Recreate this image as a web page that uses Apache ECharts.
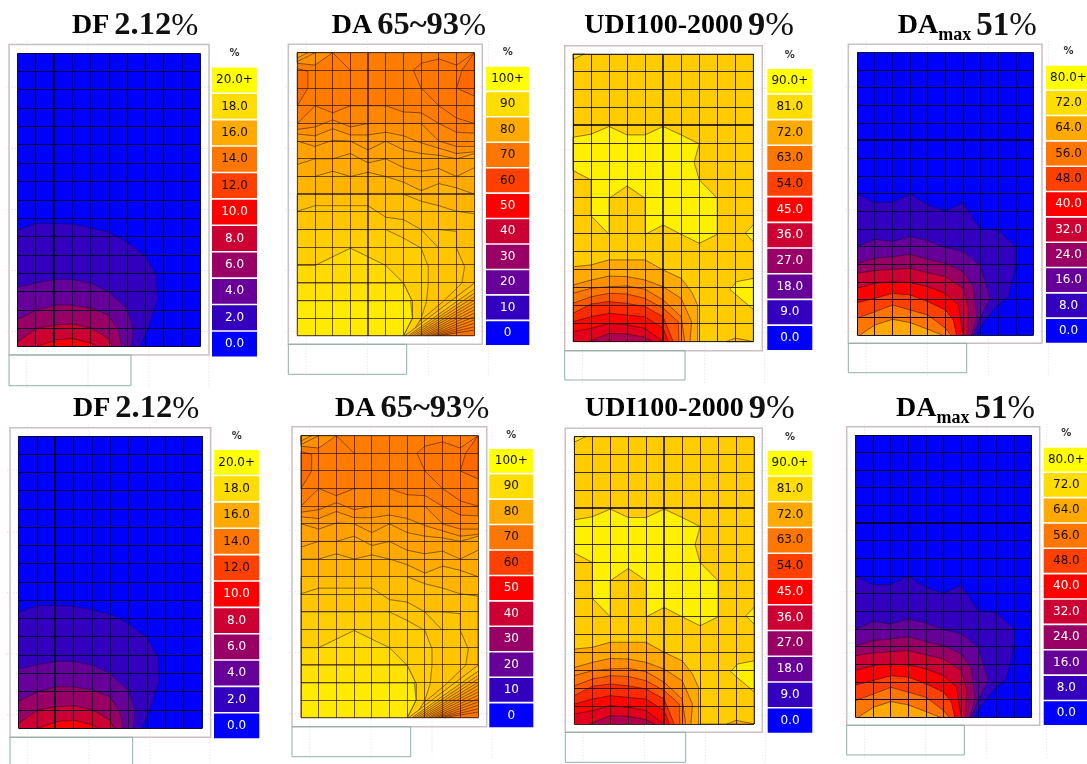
<!DOCTYPE html>
<html><head><meta charset="utf-8">
<style>html,body{margin:0;padding:0;background:#fff}#c{width:1087px;height:764px}</style>
<script src="https://cdn.jsdelivr.net/npm/echarts@6/dist/echarts.min.js"></script>
</head><body><div id="c"></div>
<script>
// ---------- data: contour levels in room-grid cells (x 0..10, y 0..16) ----------
const dfTicks  = ['0.0','2.0','4.0','6.0','8.0','10.0','12.0','14.0','16.0','18.0','20.0+'];
const daTicks  = ['0','10','20','30','40','50','60','70','80','90','100+'];
const udiTicks = ['0.0','9.0','18.0','27.0','36.0','45.0','54.0','63.0','72.0','81.0','90.0+'];
const maxTicks = ['0.0','8.0','16.0','24.0','32.0','40.0','48.0','56.0','64.0','72.0','80.0+'];

const gridColumns = [0,1,2,3,4,5,6,7,8,9,10];
const gridRows    = [0,1,2,3,4,5,6,7,8,9,10,11,12,13,14,15,16];

const dfBands = [
 [2,[[0,6.36],[1.04,6.73],[2,6.72],[3,6.69],[4.96,6.27],[5.97,5.73],[6.97,5],[7.6,3.9],[7.65,2.55],[7.15,1],[6.7,0]]],
 [4,[[0,3.24],[1.04,3.49],[2.04,3.67],[3,3.67],[4.05,3.45],[4.96,3],[5.97,2.09],[6.33,1],[6.24,0]]],
 [6,[[0,1.49],[1.04,2],[2.04,2.27],[3,2.27],[4.05,2.09],[4.96,1.73],[5.5,.91],[5.7,0]]],
 [8,[[0,.27],[1.04,1],[2.04,1.18],[3,1.24],[4.05,1],[4.96,.45],[5.2,0]]],
 [10,[[1.04,0],[2.04,.36],[3,.45],[4.05,.18],[4.32,0]]]
];
const dfPatches = [];

const daBands = [
 [73,[[0,12],[1,13],[2,12.6],[3,13],[5,13],[6,12.65],[7,12.6],[8,12],[9,11.5],[10,11.45]]],
 [75,[[0,11.66],[1,11.8],[2,12.2],[3,11.8],[4,12],[5,12],[6,12],[7,12],[8,11],[9,10.7],[10,10.7]]],
 [77,[[0,11.4],[1,11.3],[2,11.7],[3,11.35],[4,11.35],[5,11.5],[6,11.3],[7,10.9],[8,10.6],[9,10.3],[10,10.4]]],
 [78.5,[[0,11],[1,10.7],[2,11.05],[3,11],[4,10.5],[5,11],[6,10.5],[7,10.3],[8,10.2],[9,10],[10,10.3]]],
 [80,[[0,9.68],[1,10],[2,10],[3,10.3],[4,9.77],[5,10],[6,9.5],[7,9.3],[8,9.45],[9,9],[10,9.5]]],
 [82,[[0,9],[1,9],[2,9.3],[3,9],[4,9.24],[5,9],[6,8.68],[7,8.2],[8,8.6],[9,8.36],[10,8]]],
 [84,[[6,8],[7,7.6],[8,7.35],[9,7.03],[10,6.9],[10,0],[0,0],[0,8]]],
 [85.5,[[0,7.03],[1,7.35],[4,7.35],[5,6.7],[6,6.56],[7,6],[8,6],[9,5.9],[9,4.95],[9.45,3.9],[9.3,2.97],[8.2,1.9],[7,.9],[6,0]]],
 [87,[[0,6],[5,6],[6,5.52],[7,4.95],[7.4,3.9],[7.4,2.97],[7.3,1.93],[7,.98],[6.4,0]]],
 [89.5,[[0,3.97],[1,3.97],[3,4.95],[5,3.97],[6,2.97],[6.5,1.93],[6.5,1],[6,0]]],
 [91.5,[[0,2.97],[6,2.97],[6.5,1.93],[6.5,1],[6,0]]],
 [94,[[0,1.97],[6.4,1.97],[6.5,1],[6,0]]]
];
const daPatches = [
 [71,[[0,16],[10,16],[10,0],[0,0]]],
 [75,[[0,16],[0,15.4],[1,15.3],[2,16]]],
 [77,[[0,16],[0,15.5],[1,16]]],
 [79,[[0,16],[0,15.7],[.6,16]]],
 [68,[[0,15.1],[.6,14.95],[.6,14],[0,13]]],
 [70,[[6.55,15],[7,15.4],[8,15.65],[9,15.3],[10,16],[10,12],[9,12.3],[8,13],[7,14]]],
 [67.5,[[9.3,15],[10,16],[10,13.55],[9,14]]]
];
const daFanBottomX = [6.08,6.27,6.4,6.55,6.7,6.85,7,7.16,7.3,7.46,7.6,7.76,7.9,8.06];
const daFanRightY  = [2.97,2.63,2.4,2.2,2.0,1.83,1.64,1.46,1.27,1.08,.89,.7,.5,.32];
const daFanValue   = [85,83,81,79.5,78,77,76,75,74,73,72,71,70,69];

const udiBands = [
 [72,[[0,4.17],[1,4.27],[2,4.55],[4,4.55],[5,3.99],[6,3.52],[6.58,2.78],[6.91,2.04],[6.91,0]]],
 [67,[[0,3.15],[1,3.43],[2,3.65],[3,3.62],[4,3.43],[5,3.06],[6,2.41],[6.58,1.11],[6.49,0]]],
 [63,[[0,2.69],[1,2.97],[2,3.06],[3,3.1],[4,2.91],[5,2.32],[6,1.39],[6.2,0]]],
 [58,[[0,2.13],[1,2.5],[2,2.69],[3,2.65],[4,2.41],[5,1.86],[5.84,1.11],[5.87,0]]],
 [51,[[0,1.58],[1,2.1],[2,2.23],[3,2.13],[4,1.95],[5,1.39],[5.56,0]]],
 [46,[[0,1.11],[1,1.39],[2,1.58],[3,1.48],[4,1.39],[5,.74],[5.29,0]]],
 [40,[[0,.56],[1,.74],[2,1.02],[3,.93],[4,.74],[5,0]]],
 [31,[[.85,0],[2,.46],[3,.43],[4,.24],[4.45,0]]]
];
const udiPatches = [
 [78,[[0,16],[10,16],[10,0],[0,0]]],
 [86,[[0,11.37],[1,11.54],[2,11.97],[3,11.5],[4,11.5],[5,11.97],[6,11.5],[7,11],[6.72,9.98],[7,9],[8,7.98],[8,5.97],[7,5.47],[6,5.97],[5,6.49],[4,5.97],[4,7.98],[3,8.66],[2,7.98],[2,5.97],[1,7],[1,9],[0,9.52]]],
 [85,[[0,15.7],[.63,16],[0,16]]],
 [86,[[10,6.5],[9.55,6.03],[10,5.57]]],
 [86,[[10,3.52],[9.08,3.34],[8.7,2.91],[9.17,2.5],[10,1.8]]],
 [73,[[8.5,0],[9,.2],[9.8,.05],[10,0]]]
];

const maxBands = [
 [8,[[0,7.98],[1,7.52],[2,7.52],[3,8],[4,7.37],[5,7.03],[6,7.5],[7,6],[8,5.95],[9,5],[9,3.97],[8.56,2.17],[7.8,1.51],[7,.47],[6.77,0]]],
 [16,[[0,5],[1,5.43],[2,5.29],[3,5.58],[4,5.35],[5,4.97],[6,4.73],[6.96,3.97],[7.53,2.08],[7,1.04],[6.58,0]]],
 [24,[[0,4.06],[1,4.35],[2,4.44],[3,4.57],[4,4.29],[5,4.06],[6,3.59],[6.58,2.74],[6.77,1.04],[6.48,0]]],
 [32,[[0,3.5],[1,3.65],[2,3.72],[3,3.78],[4,3.53],[5,3.31],[6,2.65],[6.3,1.61],[6.26,0]]],
 [40,[[0,2.65],[1,2.93],[2,3.02],[3,2.97],[4,2.74],[5,2.36],[5.73,1.7],[6,0]]],
 [48,[[0,1.83],[1,2.08],[2,2.36],[3,2.27],[4,1.89],[5,1.42],[5.44,.85],[5.63,0]]],
 [56,[[0,.95],[1,1.32],[2,1.7],[3,1.42],[4,1.13],[5,.38],[5.31,0]]],
 [64,[[.15,0],[1,.57],[2,.89],[3,.7],[4,.32],[4.82,0]]]
];
const maxPatches = [];

// open contour fragments that do not bound a colour change worth filling
const daLines = [
 [[2,16],[3,15]], [[7,6],[8,4.95]]
];

// ---------- shared colour ramp of the legends, low to high ----------
const ramp = ['#0000ff','#3300bf','#660099','#990066','#cc0033','#ff0000','#ff4000','#ff7700','#ffaa00','#ffdd00','#ffff00'];
function hex(c){return [1,3,5].map(i=>parseInt(c.substr(i,2),16));}
function rampColor(f){
  const p=Math.max(0,Math.min(10,f*10)), i=Math.min(9,Math.floor(p)), t=p-i, a=hex(ramp[i]), b=hex(ramp[i+1]);
  return 'rgb('+a.map((v,k)=>Math.round(v+(b[k]-v)*t)).join(',')+')';
}

// ---------- metric definitions ----------
const metrics = {
  df:{max:20,ticks:dfTicks,base:0,bands:dfBands,patches:dfPatches,lines:[],fan:null,grid:'rgba(0,0,40,0.92)',
      title:'{b|DF} {n|2.12}{p|%}',n:32.5},
  da:{max:100,ticks:daTicks,base:null,bands:daBands,patches:daPatches,lines:daLines,fan:true,grid:'rgba(45,25,0,0.72)',
      title:'{b|DA} {n|65~93}{p|%}',n:32.5},
  udi:{max:90,ticks:udiTicks,base:null,bands:udiBands,patches:udiPatches,lines:[],fan:null,grid:'rgba(20,10,0,0.82)',
      title:'{b|UDI100-2000} {n|9}{p|%}',n:34.5},
  max:{max:80,ticks:maxTicks,base:0,bands:maxBands,patches:maxPatches,lines:[],fan:null,grid:'rgba(0,0,40,0.92)',
      title:'{b|DA}{s|max} {n|51}{p|%}',n:33}
};

// ---------- page layout: [left,top,right,bottom] in pixels ----------
const panels = [
 {m:'df', hx:[2],hy:[],plot:[17.7,53.3,200.3,346.7],frame:[9,44.5,209,355],box:[9,355,131,385.7],leg:[212,67.6,257,356.6],tx:72,ty:8},
 {m:'da', hx:[4],hy:[8],plot:[297.3,52.7,474.3,335.7],frame:[288.3,44.3,482.3,344.3],box:[288.3,344.3,406.7,374.3],leg:[486,66.7,529.3,345],tx:331.7,ty:8},
 {m:'udi',hx:[5],hy:[12],plot:[573,54,753.3,341.7],frame:[564.7,45.7,762.3,350.7],box:[564.7,350.7,685,380],leg:[767.3,69,812.3,350],tx:584.3,ty:8},
 {m:'max',hx:[],hy:[11],plot:[857.3,52.7,1033.7,335],frame:[848.3,44.3,1042,343.3],box:[848.3,343.3,966.7,372.7],leg:[1046,65.7,1091,342.7],tx:897.7,ty:8},
 {m:'df', hx:[2],hy:[],plot:[18.7,436,202.3,728.3],frame:[10,427.7,210.7,737.3],box:[10,737.3,132.7,768],leg:[214,450,259.3,738.3],tx:73,ty:391},
 {m:'da', hx:[],hy:[],plot:[301,435.7,478,717.7],frame:[292,426.7,486.7,726.7],box:[292,726.7,410.7,756.7],leg:[489.3,449,533.3,727.3],tx:335,ty:391},
 {m:'udi',hx:[5],hy:[12],plot:[574.3,436.7,754,724],frame:[565.3,428.3,762.3,732.3],box:[565.3,732.3,685.7,762.3],leg:[767.7,451,812.3,732.7],tx:585,ty:391},
 {m:'max',hx:[],hy:[11],plot:[855.7,435,1031.7,717.3],frame:[846.7,426.7,1039.7,725.3],box:[846.7,725.3,964.3,755],leg:[1043.7,447.7,1089,725],tx:896,ty:391}
];

function closeDown(pts){
  const out=pts.slice(), a=pts[0], z=pts[pts.length-1];
  if(z[1]>0 && z[0]===10) out.push([10,0]);
  if(a[0]===0 && a[1]>0) out.push([0,0]);
  return out;
}

function bandList(m,p){
  const list=[];
  if(m.base!==null) list.push({v:m.base,poly:[[0,16],[10,16],[10,0],[0,0]],line:null});
  m.patches.forEach(q=>list.push({v:q[0],poly:q[1],line:q[1].concat([q[1][0]])}));
  m.bands.forEach(b=>list.push({v:b[0],poly:closeDown(b[1]),line:b[1]}));
  if(m.fan){
    daFanBottomX.forEach((x,i)=>{
      const s=[[x,0],[10,daFanRightY[i]]];
      list.push({v:daFanValue[i],poly:s.concat([[10,0]]),line:s});
    });
  }
  (m.lines||[]).forEach(l=>list.push({v:null,poly:null,line:l}));
  gridColumns.forEach(x=>list.push({v:null,poly:null,rule:[[x,0],[x,16]],w:p.hx.includes(x)?2:1}));
  gridRows.forEach(y=>list.push({v:null,poly:null,rule:[[0,y],[10,y]],w:p.hy.includes(y)?2:1}));
  return list;
}

const option={animation:false,backgroundColor:'#fff',grid:[],xAxis:[],yAxis:[],series:[],title:[],graphic:[]};
const g=[];
panels.forEach((p,i)=>{
  const m=metrics[p.m], [l,t,r,b]=p.plot;
  option.grid.push({left:l,top:t,width:r-l,height:b-t,show:false});
  const ax={type:'value',gridIndex:i,interval:1,axisLine:{show:false},axisTick:{show:false},axisLabel:{show:false},splitLine:{show:false}};
  option.xAxis.push(Object.assign({min:0,max:10},ax));
  option.yAxis.push(Object.assign({min:0,max:16},ax));
  const list=bandList(m,p);
  option.series.push({
    type:'custom',xAxisIndex:i,yAxisIndex:i,clip:false,silent:true,
    encode:{x:0,y:1},
    data:list.map(e=>{const q=(e.poly||e.line||e.rule)[0];return [q[0],q[1],e.v];}),
    renderItem:(params,api)=>{
      const e=list[params.dataIndex], kids=[];
      if(e.poly) kids.push({type:'polygon',shape:{points:e.poly.map(q=>api.coord(q))},
        style:{fill:rampColor(e.v/m.max),stroke:null}});
      if(e.line) kids.push({type:'polyline',shape:{points:e.line.map(q=>api.coord(q))},
        style:{fill:null,stroke:'rgba(20,10,30,0.62)',lineWidth:0.8}});
      if(e.rule){
        const pts=e.rule.map(q=>api.coord(q)), sn=e.w===2?0:.5;
        const vertical=e.rule[0][0]===e.rule[1][0];
        const s=pts.map(c=>vertical?[Math.floor(pts[0][0])+sn,c[1]]:[c[0],Math.floor(pts[0][1])+sn]);
        kids.push({type:'polyline',shape:{points:s},style:{fill:null,stroke:m.grid,lineWidth:e.w}});
      }
      return {type:'group',children:kids};
    }
  });
  // title
  option.title.push({left:p.tx,top:p.ty,padding:0,text:m.title,textStyle:{rich:{
    b:{fontFamily:'Liberation Serif',fontWeight:'bold',fontSize:28,color:'#000',lineHeight:36},
    s:{fontFamily:'Liberation Serif',fontWeight:'bold',fontSize:18,color:'#000',verticalAlign:'bottom',lineHeight:33},
    n:{fontFamily:'Liberation Serif',fontWeight:'bold',fontSize:m.n,color:'#111',lineHeight:36},
    p:{fontFamily:'Liberation Serif',fontWeight:'normal',fontSize:m.n,color:'#111',lineHeight:36}
  }}});
  // chrome: guides, frame, empty box
  const [fl,ft,fr,fb]=p.frame, bx=p.box;
  [17.7,79,140,200].forEach(dx=>g.push({type:'line',z:-2,silent:true,shape:{x1:fl+dx,y1:ft-3,x2:fl+dx,y2:bx[3]+3},style:{stroke:'#dedede',lineWidth:1,lineDash:[1,2]}}));
  [42.5,104,165,226,287].forEach(dy=>g.push({type:'line',z:-2,silent:true,shape:{x1:fl-3,y1:ft+dy,x2:fr+5,y2:ft+dy},style:{stroke:'#dedede',lineWidth:1,lineDash:[1,2]}}));
  g.push({type:'rect',z:-1,silent:true,shape:{x:fl,y:ft,width:fr-fl,height:fb-ft},style:{fill:null,stroke:'#c9bfc4',lineWidth:1.5}});
  g.push({type:'rect',z:-1,silent:true,shape:{x:bx[0],y:bx[1],width:bx[2]-bx[0],height:bx[3]-bx[1]},style:{fill:null,stroke:'#8fb0a6',lineWidth:1}});
  // legend
  const [ll,lt,lr,lb]=p.leg, pitch=(lb-lt+1.6)/11;
  g.push({type:'text',z:10,silent:true,x:(ll+lr)/2,y:lt-14,style:{text:'%',fontFamily:'DejaVu Sans',fontSize:10,fontWeight:'bold',fill:'#333',align:'center',verticalAlign:'middle'}});
  for(let k=0;k<11;k++){
    const y=lt+pitch*k;
    g.push({type:'rect',z:10,silent:true,shape:{x:ll,y:y,width:lr-ll,height:pitch-1.6},style:{fill:ramp[10-k]}});
    g.push({type:'text',z:11,silent:true,x:(ll+lr)/2,y:y+(pitch-1.6)/2,style:{text:m.ticks[10-k],fontFamily:'DejaVu Sans',fontSize:12,
      fill:(10-k)<=5?'#fff':'#111',align:'center',verticalAlign:'middle'}});
  }
});
option.graphic=[{elements:g}];
echarts.init(document.getElementById('c'),null,{renderer:'canvas'}).setOption(option);
</script></body></html>
